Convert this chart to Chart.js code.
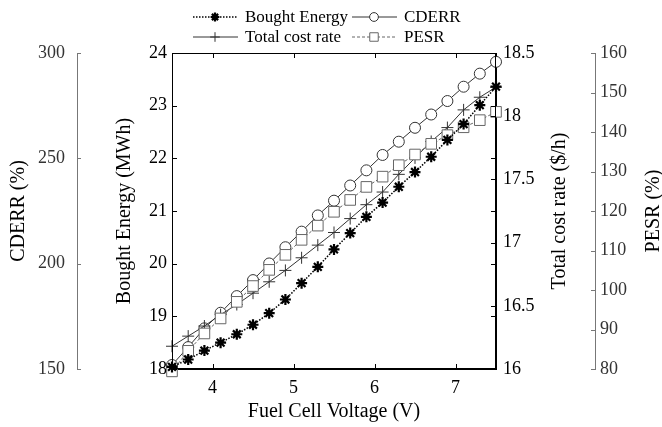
<!DOCTYPE html>
<html>
<head>
<meta charset="utf-8">
<title>Fuel cell voltage sweep</title>
<script src="https://cdn.jsdelivr.net/npm/chart.js@4/dist/chart.umd.min.js"></script>
<style>
  html, body { margin: 0; padding: 0; background: #fff; }
  #wrap { width: 662px; height: 427px; position: relative; }
</style>
</head>
<body>
<div id="wrap"><canvas id="chart"></canvas></div>
<script>
// Fuel cell voltage sweep (V)
const voltage = [3.5, 3.7, 3.9, 4.1, 4.3, 4.5, 4.7, 4.9, 5.1, 5.3, 5.5, 5.7, 5.9, 6.1, 6.3, 6.5, 6.7, 6.9, 7.1, 7.3, 7.5];
const voltageTicks = [4, 5, 6, 7];
// Bought energy (MWh)
const boughtEnergy = [18.04, 18.18, 18.35, 18.50, 18.66, 18.84, 19.06, 19.32, 19.63, 19.94, 20.27, 20.58, 20.89, 21.16, 21.46, 21.74, 22.03, 22.35, 22.65, 23.01, 23.36];
// CDERR (%)
const cderr = [151.9, 160.4, 169.3, 176.7, 184.6, 192.2, 200.1, 207.8, 215.2, 222.9, 229.9, 237.1, 244.3, 251.6, 257.9, 264.5, 270.8, 277.2, 284.0, 290.2, 295.8];
// Total cost rate ($/h)
const totalCost = [16.18, 16.26, 16.34, 16.43, 16.51, 16.60, 16.69, 16.78, 16.88, 16.98, 17.08, 17.19, 17.30, 17.40, 17.54, 17.67, 17.80, 17.91, 18.05, 18.15, 18.23];
// PESR (%)
const pesr = [79.4, 84.6, 89.0, 92.8, 97.0, 101.0, 105.1, 108.9, 112.7, 116.3, 119.8, 122.8, 126.1, 128.7, 131.6, 134.3, 137.0, 139.2, 141.2, 143.0, 145.1];

const SERIF = "'Liberation Serif', 'Times New Roman', serif";
const tickFont = { family: SERIF, size: 18 };
const titleFont = { family: SERIF, size: 20, lineHeight: 1.2 };

const pts = (ys) => voltage.map((v, i) => ({ x: v, y: ys[i] }));
const plain = (v) => String(Number(v));

// inward tick marks and the closed box, matlab style
const framePlugin = {
  id: "frame",
  afterDatasetsDraw(chart) {
    const { ctx, chartArea: a, scales } = chart;
    const line = (x1, y1, x2, y2) => { ctx.beginPath(); ctx.moveTo(x1, y1); ctx.lineTo(x2, y2); ctx.stroke(); };
    ctx.save();
    ctx.lineWidth = 1;
    ctx.strokeStyle = "#000";
    ctx.strokeRect(Math.round(a.left) + 0.5, Math.round(a.top) + 0.5, Math.round(a.right - a.left) - 1, Math.round(a.bottom - a.top) - 1);
    scales.x.ticks.forEach((t) => {
      const px = Math.round(scales.x.getPixelForValue(t.value)) + 0.5;
      line(px, a.bottom, px, a.bottom - 5);
      line(px, a.top, px, a.top + 5);
    });
    scales.yBE.ticks.forEach((t) => {
      const py = Math.round(scales.yBE.getPixelForValue(t.value)) + 0.5;
      line(a.left, py, a.left + 5, py);
      line(a.right, py, a.right - 5, py);
    });
    scales.yTCR.ticks.forEach((t) => {
      const py = Math.round(scales.yTCR.getPixelForValue(t.value)) + 0.5;
      line(a.right, py, a.right - 5, py);
    });
    ctx.strokeStyle = "#777";
    const cd = scales.yCD, pe = scales.yPE;
    cd.ticks.forEach((t) => {
      const py = Math.round(cd.getPixelForValue(t.value)) + 0.5;
      line(cd.right, py, cd.right + 4, py);
    });
    pe.ticks.forEach((t) => {
      const py = Math.round(pe.getPixelForValue(t.value)) + 0.5;
      line(pe.left, py, pe.left - 4, py);
    });
    ctx.restore();
  }
};

// right-hand axis titles read bottom-to-top like the left ones
const sideTitlePlugin = {
  id: "sideTitles",
  afterDraw(chart, args, opts) {
    const { ctx, chartArea: a } = chart;
    ctx.save();
    ctx.fillStyle = "#000";
    ctx.font = titleFont.size + "px " + SERIF;
    ctx.textAlign = "center";
    ctx.textBaseline = "middle";
    opts.items.forEach((it) => {
      const s = chart.scales[it.scale];
      ctx.save();
      ctx.translate(s.right - it.offset, (a.top + a.bottom) / 2);
      ctx.rotate(-Math.PI / 2);
      ctx.fillText(it.text, 0, 0);
      ctx.restore();
    });
    ctx.restore();
  }
};

// two-row legend above the plot, drawn from the dataset styles
const legendPlugin = {
  id: "legend2",
  afterDraw(chart, args, opts) {
    const { ctx } = chart;
    ctx.save();
    opts.slots.forEach((s) => {
      const ds = chart.data.datasets.find((d) => d.label === s.label);
      ctx.strokeStyle = ds.borderColor;
      ctx.lineWidth = ds.borderWidth;
      ctx.setLineDash(ds.borderDash || []);
      ctx.beginPath();
      ctx.moveTo(s.x, s.y);
      ctx.lineTo(s.x + 45, s.y);
      ctx.stroke();
      ctx.setLineDash([]);
      ctx.fillStyle = ds.pointBackgroundColor;
      ctx.strokeStyle = ds.pointBorderColor;
      ctx.lineWidth = ds.pointBorderWidth;
      Chart.helpers.drawPoint(ctx, {
        pointStyle: ds.pointStyle, radius: ds.pointRadius * 0.8,
        borderWidth: ds.pointBorderWidth, rotation: 0
      }, s.x + 22, s.y);
      ctx.fillStyle = "#000";
      ctx.font = "17px " + SERIF;
      ctx.textBaseline = "middle";
      ctx.fillText(s.label, s.x + 52, s.y + 1);
    });
    ctx.restore();
  }
};

function axisTitle(text, pad) {
  return { display: true, text, color: "#000", font: titleFont, padding: pad };
}

new Chart(document.getElementById("chart"), {
  type: "line",
  data: {
    datasets: [
      {
        label: "Bought Energy", data: pts(boughtEnergy), yAxisID: "yBE", order: 0,
        borderColor: "#000", borderWidth: 1.5, borderDash: [1.5, 1.5],
        pointStyle: "star", pointRadius: 5.5, pointBorderWidth: 2.2,
        pointBorderColor: "#000", pointBackgroundColor: "#000"
      },
      {
        label: "CDERR", data: pts(cderr), yAxisID: "yCD", order: 3,
        borderColor: "#333", borderWidth: 1,
        pointStyle: "circle", pointRadius: 5.5, pointBorderWidth: 1,
        pointBorderColor: "#333", pointBackgroundColor: "#fff"
      },
      {
        label: "Total cost rate", data: pts(totalCost), yAxisID: "yTCR", order: 2,
        borderColor: "#333", borderWidth: 1,
        pointStyle: "cross", pointRadius: 6, pointBorderWidth: 1,
        pointBorderColor: "#333", pointBackgroundColor: "#333"
      },
      {
        label: "PESR", data: pts(pesr), yAxisID: "yPE", order: 1,
        borderColor: "#666", borderWidth: 1, borderDash: [3, 2],
        pointStyle: "rect", pointRadius: 7.5, pointBorderWidth: 1,
        pointBorderColor: "#666", pointBackgroundColor: "#fff"
      }
    ]
  },
  options: {
    responsive: true,
    maintainAspectRatio: false,
    animation: false,
    events: [],
    clip: false,
    elements: { line: { tension: 0 } },
    layout: { padding: { top: 53, left: 0, right: 0, bottom: 0 } },
    plugins: {
      legend: { display: false },
      tooltip: { enabled: false },
      legend2: {
        slots: [
          { label: "Bought Energy", x: 193, y: 17 },
          { label: "CDERR", x: 352, y: 17 },
          { label: "Total cost rate", x: 193, y: 37 },
          { label: "PESR", x: 352, y: 37 }
        ]
      },
      sideTitles: {
        items: [
          { scale: "yTCR", text: "Total cost rate ($/h)", offset: 35 },
          { scale: "yPE", text: "PESR (%)", offset: 8 }
        ]
      }
    },
    scales: {
      x: {
        type: "linear", min: 3.5, max: 7.5,
        afterBuildTicks: (s) => { s.ticks = voltageTicks.map((v) => ({ value: v })); },
        afterFit: (s) => { s.height = 58; },
        ticks: { color: "#000", font: tickFont, padding: 8, maxRotation: 0 },
        grid: { display: false, drawTicks: false },
        border: { color: "#000" },
        title: axisTitle("Fuel Cell Voltage (V)", { top: 0, bottom: 3 })
      },
      yBE: {
        position: "left", weight: 0, min: 18, max: 24,
        afterFit: (s) => { s.width = 95; },
        ticks: { stepSize: 1, color: "#000", font: tickFont, padding: 5, callback: plain },
        grid: { display: false, drawTicks: false },
        border: { color: "#000" },
        title: axisTitle("Bought Energy (MWh)", { top: 36, bottom: 0 })
      },
      yCD: {
        position: "left", weight: 1, min: 150, max: 300,
        afterFit: (s) => { s.width = 77; },
        ticks: { stepSize: 50, color: "#333", font: tickFont, padding: 12, callback: plain },
        grid: { display: false, drawTicks: false },
        border: { color: "#777" },
        title: axisTitle("CDERR (%)", { top: 7, bottom: 0 })
      },
      yTCR: {
        position: "right", weight: 0, min: 16, max: 18.5,
        afterFit: (s) => { s.width = 99; },
        ticks: { stepSize: 0.5, color: "#000", font: tickFont, padding: 7, callback: plain },
        grid: { display: false, drawTicks: false },
        border: { color: "#000" }
      },
      yPE: {
        position: "right", weight: 1, min: 80, max: 160,
        afterFit: (s) => { s.width = 67; },
        ticks: { stepSize: 10, color: "#333", font: tickFont, padding: 5, callback: plain },
        grid: { display: false, drawTicks: false },
        border: { color: "#777" }
      }
    }
  },
  plugins: [framePlugin, sideTitlePlugin, legendPlugin]
});
</script>
</body>
</html>
